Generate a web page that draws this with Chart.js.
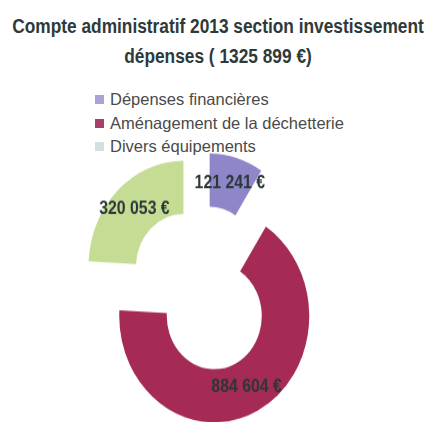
<!DOCTYPE html>
<html lang="fr">
<head>
<meta charset="utf-8">
<script src="https://cdn.jsdelivr.net/npm/chart.js@4.4.1/dist/chart.umd.min.js"></script>
<style>
    html, body { margin: 0; padding: 0; background: #fff; }
    body { width: 436px; height: 422px; position: relative; overflow: hidden; }
    #title {
        position: absolute; left: -100px; top: 11px; width: 636px; text-align: center; white-space: nowrap;
        font-family: "Liberation Sans", sans-serif;
        font-weight: bold; font-size: 20px; line-height: 30px; color: #2e3a3a;
        transform: scaleX(0.865); transform-origin: 318px 0;
    }
    #legend { position: absolute; left: 95px; top: 88px; list-style: none; margin: 0; padding: 0; }
    #legend li {
        display: flex; align-items: center; height: 23.5px; white-space: nowrap;
        font-family: "Liberation Sans", sans-serif; font-size: 16.5px; color: #4a4a4a;
    }
    #legend span { display: inline-block; width: 9px; height: 9px; margin-right: 6px; }
    #chartBox {
        position: absolute; left: 0; top: 157px; width: 436px; height: 264px;
        transform: scaleY(1.12); transform-origin: 202px 132px;
    }
</style>
</head>
<body>
<div id="title">Compte administratif 2013 section investissement<br>dépenses ( 1325 899 €)</div>
<ul id="legend"></ul>
<div id="chartBox"><canvas id="depensesChart"></canvas></div>
<script>
    const labels = ['Dépenses financières', 'Aménagement de la déchetterie', 'Divers équipements'];
    const values = [121241, 884604, 320053];

    const sliceColors = ['#8f86c9', '#a52a55', '#c5dc94'];
    const legendColors = ['#a9a4d6', '#a6406a', '#d3e0dc'];
    const EXPLODE = 27;      // distance each slice is pulled out
    const STRETCH = 1.12;    // vertical stretch of the chart box (see css)

    function formatEuro(v) {
        return String(v).replace(/\B(?=(\d{3})+(?!\d))/g, ' ') + ' €';
    }

    // html legend, one item per line
    const legend = document.getElementById('legend');
    labels.forEach(function (label, i) {
        const li = document.createElement('li');
        const box = document.createElement('span');
        box.style.background = legendColors[i];
        li.appendChild(box);
        li.appendChild(document.createTextNode(label));
        legend.appendChild(li);
    });

    // draw every arc pushed out along its middle angle
    const explodePlugin = {
        id: 'explode',
        beforeDatasetDraw: function (chart, args) {
            const ctx = chart.ctx;
            args.meta.data.forEach(function (arc) {
                const mid = (arc.startAngle + arc.endAngle) / 2;
                ctx.save();
                ctx.translate(Math.cos(mid) * EXPLODE, Math.sin(mid) * EXPLODE);
                arc.draw(ctx);
                ctx.restore();
            });
            return false;
        }
    };

    // value labels in the middle of each ring piece
    const valueLabels = {
        id: 'valueLabels',
        afterDatasetsDraw: function (chart) {
            const ctx = chart.ctx;
            const meta = chart.getDatasetMeta(0);
            ctx.save();
            ctx.font = 'bold 18px "Liberation Sans", sans-serif';
            ctx.fillStyle = '#2a3838';
            ctx.textAlign = 'center';
            ctx.textBaseline = 'middle';
            meta.data.forEach(function (arc, i) {
                const mid = (arc.startAngle + arc.endAngle) / 2;
                const r = EXPLODE + (arc.innerRadius + arc.outerRadius) / 2;
                ctx.save();
                ctx.translate(arc.x + Math.cos(mid) * r, arc.y + Math.sin(mid) * r);
                ctx.scale(0.88, 1 / STRETCH);
                ctx.fillText(formatEuro(values[i]), 0, 0);
                ctx.restore();
            });
            ctx.restore();
        }
    };

    const chart = new Chart(document.getElementById('depensesChart'), {
        type: 'doughnut',
        data: {
            labels: labels,
            datasets: [{
                data: values,
                backgroundColor: sliceColors,
                borderWidth: 0,
                clip: false
            }]
        },
        options: {
            responsive: true,
            maintainAspectRatio: false,
            animation: false,
            radius: 95,
            cutout: '50%',
            layout: { padding: { left: 0, right: 32, top: 0, bottom: 0 } },
            plugins: {
                legend: { display: false },
                title: { display: false },
                tooltip: { enabled: false }
            }
        },
        plugins: [explodePlugin, valueLabels]
    });
</script>
</body>
</html>
